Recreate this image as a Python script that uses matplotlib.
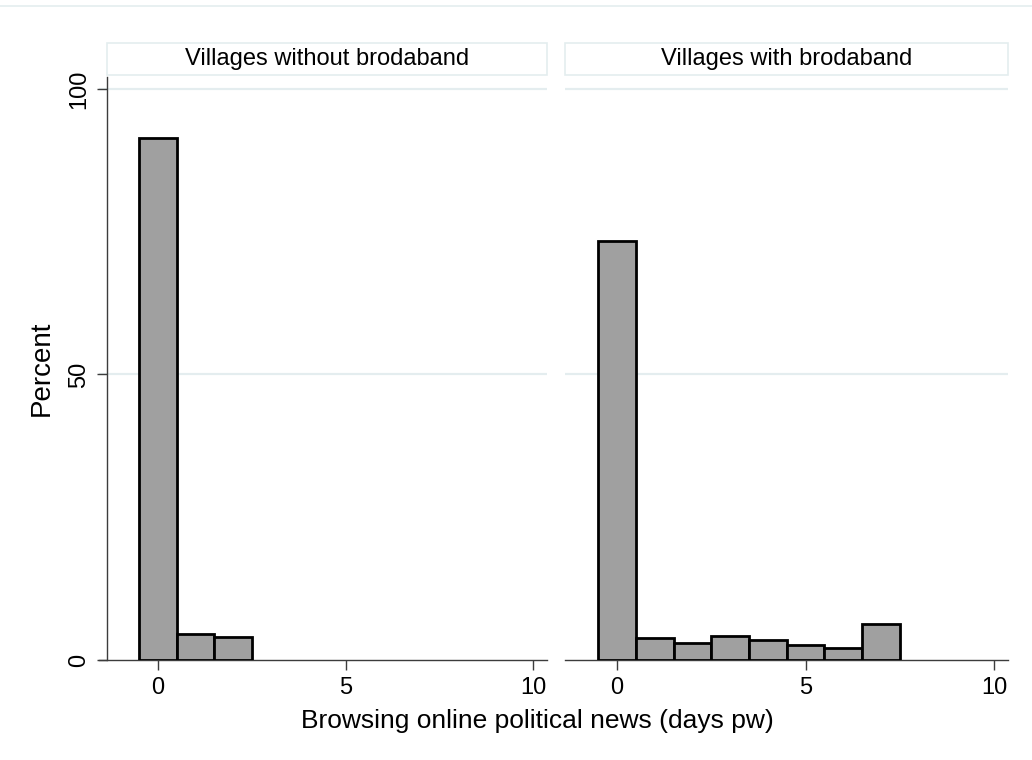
import matplotlib
matplotlib.use('Agg')
import matplotlib.pyplot as plt
from matplotlib.patches import Rectangle
from matplotlib.lines import Line2D

plt.rcParams['font.family'] = ['Liberation Sans', 'DejaVu Sans']

# Percent of respondents by days per week spent browsing online political news
panel_titles = ['Villages without brodaband', 'Villages with brodaband']
days_without = [0, 1, 2]
pct_without = [91.5, 4.5, 4.0]
days_with = [0, 1, 2, 3, 4, 5, 6, 7]
pct_with = [73.3, 3.9, 3.0, 4.2, 3.45, 2.6, 2.1, 6.35]
x_ticks = [0, 5, 10]
y_ticks = [0, 50, 100]

axis_col = '#3c3c3c'
grid_col = '#e4edef'
bar_col = '#a0a0a0'

W, H = 1032, 760
fig = plt.figure(figsize=(W / 100, H / 100), dpi=100)
fig.patch.set_facecolor('white')

# thin border line along the top of the graph region
fig.add_artist(Line2D([0, 1], [1 - 6 / H, 1 - 6 / H], transform=fig.transFigure,
                      color=grid_col, linewidth=1.2))


def make_panel(left_px, right_px, xlim, days, pct, title, show_y):
    ax = fig.add_axes([left_px / W, 1 - 660 / H, (right_px - left_px) / W, 583 / H])
    ax.bar(days, pct, width=1.0, color=bar_col, edgecolor='black', linewidth=2.0, zorder=3)
    ax.set_xlim(*xlim)
    ax.set_ylim(0, 102.1)
    ax.set_xticks(x_ticks)
    ax.set_yticks(y_ticks)
    for yv in y_ticks[1:]:
        ax.axhline(yv, color=grid_col, linewidth=1.6, zorder=1)
    for side in ['top', 'right']:
        ax.spines[side].set_visible(False)
    ax.spines['bottom'].set_color(axis_col)
    ax.spines['bottom'].set_linewidth(1.0)
    ax.tick_params(axis='x', direction='out', length=7, width=1.0, color=axis_col,
                   labelsize=17, pad=5)
    if show_y:
        ax.spines['left'].set_position(('data', -1.36))
        ax.spines['left'].set_color(axis_col)
        ax.spines['left'].set_linewidth(1.0)
        ax.tick_params(axis='y', direction='out', length=7, width=1.0, color=axis_col,
                       labelsize=17, pad=5)
        for lab in ax.get_yticklabels():
            lab.set_rotation(90)
            lab.set_va('center')
        ax.set_ylabel('Percent', fontsize=20, labelpad=10)
    else:
        ax.spines['left'].set_visible(False)
        ax.tick_params(axis='y', left=False, labelleft=False)

    # facet strip with title
    x0 = (left_px + (8 if show_y else 0)) / W
    x1 = right_px / W
    strip = Rectangle((x0, 1 - 75 / H), x1 - x0, 32 / H, transform=fig.transFigure,
                      facecolor='white', edgecolor=grid_col, linewidth=1.2)
    fig.add_artist(strip)
    fig.text((x0 + x1) / 2, 1 - 59 / H, title, ha='center', va='center', fontsize=17)
    return ax


make_panel(99, 547, (-1.57, 10.37), days_without, pct_without, panel_titles[0], True)
make_panel(565, 1008, (-1.38, 10.37), days_with, pct_with, panel_titles[1], False)

fig.text(537 / W, 1 - 721 / H, 'Browsing online political news (days pw)',
         ha='center', va='center', fontsize=19)

fig.savefig('out.png', dpi=100)
